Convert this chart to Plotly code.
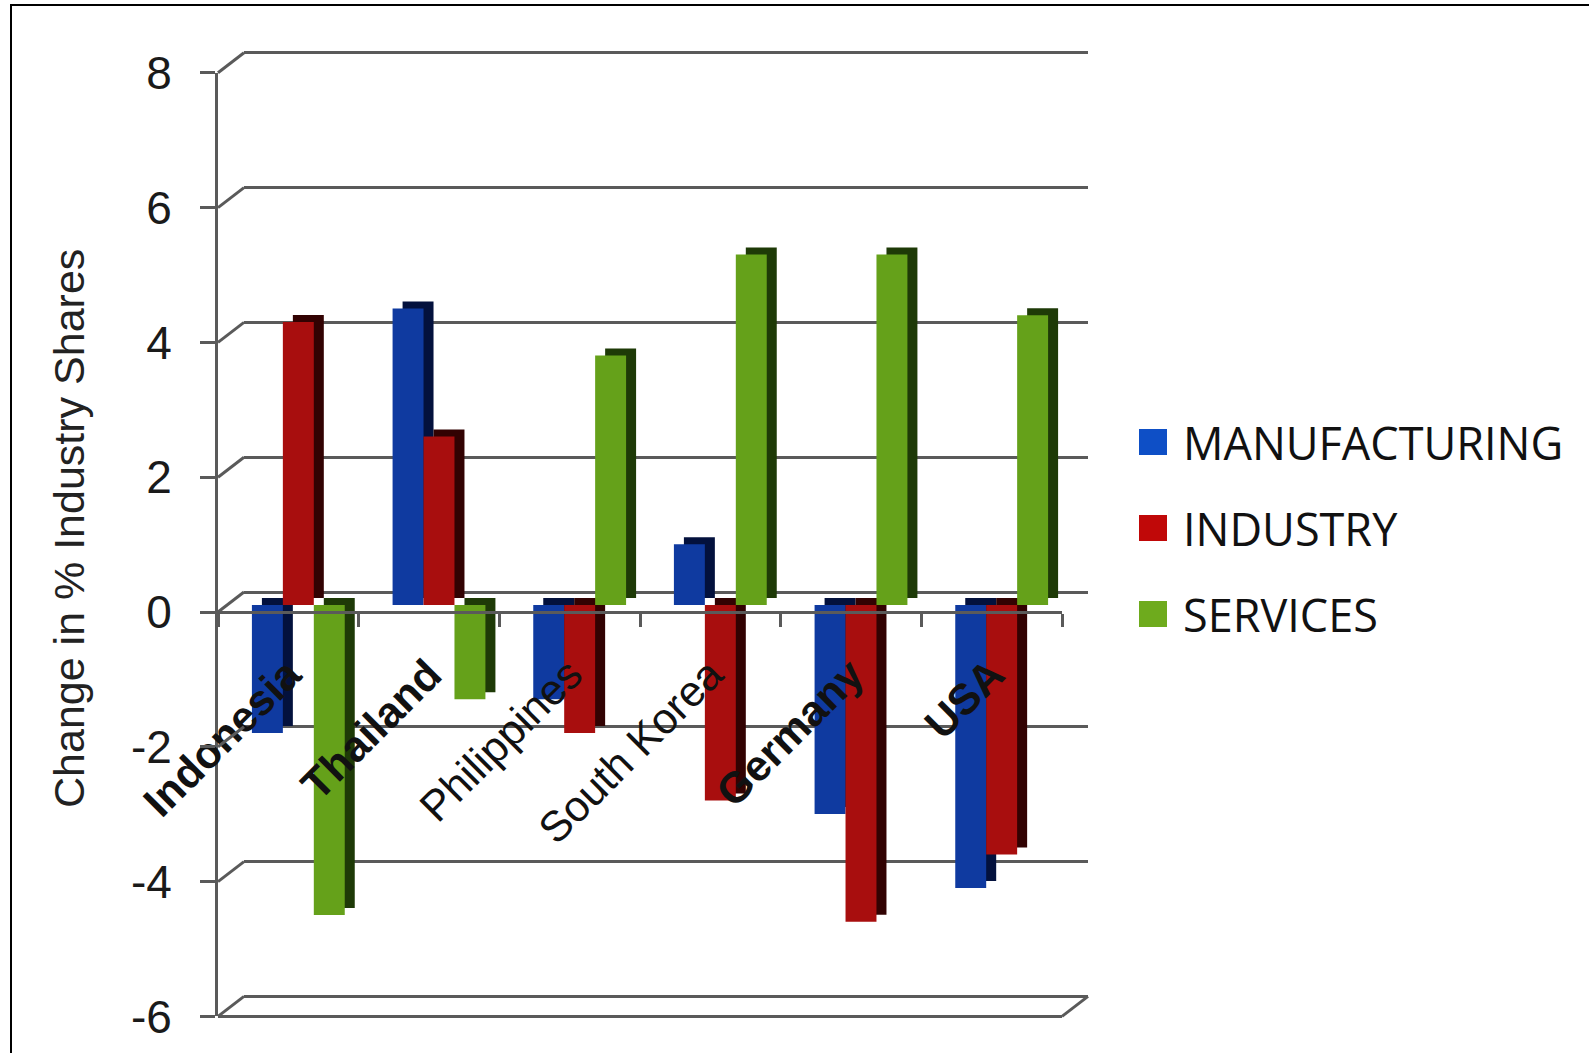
import plotly.graph_objects as go

# ---------------- data ----------------
categories = ["Indonesia", "Thailand", "Philippines", "South Korea", "Germany", "USA"]
tick_labels = ["<b>Indonesia</b>", "<b>Thailand</b>", "Philippines", "South Korea",
               "<b>Germany</b>", "<b>USA</b>"]
series_names = ["MANUFACTURING", "INDUSTRY", "SERVICES"]
manufacturing = [-1.9, 4.4, -1.4, 0.9, -3.1, -4.2]
industry = [4.2, 2.5, -1.9, -2.9, -4.7, -3.7]
services = [-4.6, -1.4, 3.7, 5.2, 5.2, 4.3]
y_ticks = [-6, -4, -2, 0, 2, 4, 6, 8]
y_tick_text = ["-6", "-4", "-2", "0", "2", "4", "6", "8"]
y_title = "Change in % Industry Shares"

# ---------------- styles ----------------
front_colors = ["#0F3AA0", "#A80E0E", "#65A11A"]
side_colors = ["#03113D", "#320202", "#1E3A07"]
legend_colors = ["#0E4FC6", "#C00808", "#6EAB1D"]
grid_color = "#5a5a5a"

W, H = 1589, 1053
Y_RANGE = [-6, 8]
PAD = 0.05  # tiny range padding on back wall so edge gridlines are drawn
PX_PER_UNIT = 67.4


def fx(p):
    return p / W


def fy(p):
    return 1 - p / H


# pixel boxes: (left, right, zero_y_px)
FRONT = (218, 1062, 612)
BACK = (244, 1088, 592)
BARS = (228, 1072, 605)
SHADOW = (238, 1082, 598)


def ydom(box, lo, hi):
    z = box[2]
    return [fy(z - lo * PX_PER_UNIT), fy(z - hi * PX_PER_UNIT)]


def xdom(box):
    return [fx(box[0]), fx(box[1])]


def val_to_paper(box, v):
    return fy(box[2] - v * PX_PER_UNIT)


series = [manufacturing, industry, services]

fig = go.Figure()

# shadow (depth) bars on x2/y2
for name, vals, col in zip(series_names, series, side_colors):
    fig.add_trace(go.Bar(x=categories, y=vals, name=name, marker_color=col,
                         marker_line_width=0, xaxis="x2", yaxis="y2",
                         showlegend=False, hoverinfo="skip"))
# front bars on x3/y3
for name, vals, col in zip(series_names, series, front_colors):
    fig.add_trace(go.Bar(x=categories, y=vals, name=name, marker_color=col,
                         marker_line_width=0, xaxis="x3", yaxis="y3",
                         showlegend=False))
# invisible traces on back wall subplot and front axis subplot
fig.add_trace(go.Scatter(x=categories, y=[None] * len(categories), xaxis="x", yaxis="y",
                         showlegend=False, hoverinfo="skip"))
fig.add_trace(go.Scatter(x=categories, y=[None] * len(categories), xaxis="x4", yaxis="y4",
                         showlegend=False, hoverinfo="skip"))

ncat = len(categories)
hidden_x = dict(type="category", range=[-0.5, ncat - 0.5], visible=False, automargin=False)
hidden_y = dict(range=Y_RANGE, visible=False, automargin=False)

fig.update_layout(
    width=W, height=H,
    margin=dict(l=0, r=0, t=0, b=0, pad=0, autoexpand=False),
    paper_bgcolor="white",
    plot_bgcolor="rgba(0,0,0,0)",
    barmode="group",
    bargap=0.34,
    bargroupgap=0,
    showlegend=False,
    xaxis=dict(hidden_x, domain=xdom(BACK), anchor="y"),
    yaxis=dict(range=[Y_RANGE[0] - PAD, Y_RANGE[1] + PAD],
               domain=ydom(BACK, Y_RANGE[0] - PAD, Y_RANGE[1] + PAD),
               anchor="x", tickvals=y_ticks, showgrid=True, automargin=False,
               gridcolor=grid_color, gridwidth=3, showticklabels=False, ticks="",
               showline=False, zeroline=False),
    xaxis2=dict(hidden_x, domain=xdom(SHADOW), anchor="y2"),
    yaxis2=dict(hidden_y, domain=ydom(SHADOW, *Y_RANGE), anchor="x2"),
    xaxis3=dict(hidden_x, domain=xdom(BARS), anchor="y3"),
    yaxis3=dict(hidden_y, domain=ydom(BARS, *Y_RANGE), anchor="x3"),
    xaxis4=dict(type="category", range=[-0.5, ncat - 0.5], domain=xdom(FRONT),
                anchor="free", position=val_to_paper(FRONT, 0), automargin=False,
                showgrid=False, zeroline=False,
                showline=True, linecolor=grid_color, linewidth=3,
                ticks="outside", tickson="boundaries", ticklen=13, tickwidth=3,
                tickcolor=grid_color, tickangle=-45,
                tickvals=categories, ticktext=tick_labels,
                ticklabelstandoff=18,
                tickfont=dict(family="Liberation Sans, Arial", size=43, color="#111111")),
    yaxis4=dict(range=Y_RANGE, domain=ydom(FRONT, *Y_RANGE), anchor="x4", automargin=False,
                tickvals=y_ticks, ticktext=y_tick_text,
                showgrid=False, zeroline=False, showline=True, linecolor=grid_color,
                linewidth=3, ticks="outside", ticklen=15, tickwidth=3,
                tickcolor=grid_color, ticklabelstandoff=19,
                tickfont=dict(family="Liberation Sans, Arial", size=46, color="#1a1a1a")),
)

shapes = []
# connectors from front axis to back wall gridlines
for v in y_ticks:
    shapes.append(dict(type="line", xref="paper", yref="paper",
                       x0=fx(FRONT[0]), y0=val_to_paper(FRONT, v),
                       x1=fx(BACK[0]), y1=val_to_paper(BACK, v),
                       line=dict(color=grid_color, width=3)))
# front floor edge at bottom and right diagonal
vmin = Y_RANGE[0]
shapes.append(dict(type="line", xref="paper", yref="paper",
                   x0=fx(FRONT[0]), y0=val_to_paper(FRONT, vmin),
                   x1=fx(FRONT[1]), y1=val_to_paper(FRONT, vmin),
                   line=dict(color=grid_color, width=3)))
shapes.append(dict(type="line", xref="paper", yref="paper",
                   x0=fx(FRONT[1]), y0=val_to_paper(FRONT, vmin),
                   x1=fx(BACK[1]), y1=val_to_paper(BACK, vmin),
                   line=dict(color=grid_color, width=3)))
# outer frame
shapes.append(dict(type="rect", xref="paper", yref="paper",
                   x0=fx(11), y0=fy(1080), x1=fx(1620), y1=fy(5),
                   line=dict(color="#000000", width=2), fillcolor="rgba(0,0,0,0)"))

# custom legend
annotations = []
LEG_X, LEG_TOP, LEG_STEP, SQ_W, SQ_H = 1139, 442, 86, 28, 26
for i, (name, col) in enumerate(zip(series_names, legend_colors)):
    cy = LEG_TOP + i * LEG_STEP
    shapes.append(dict(type="rect", xref="paper", yref="paper",
                       x0=fx(LEG_X), x1=fx(LEG_X + SQ_W),
                       y0=fy(cy + SQ_H / 2), y1=fy(cy - SQ_H / 2),
                       line=dict(width=0), fillcolor=col))
    annotations.append(dict(xref="paper", yref="paper", x=fx(LEG_X + 42), y=fy(cy),
                            xanchor="left", yanchor="middle", showarrow=False,
                            text=name,
                            font=dict(family="Open Sans", size=45, color="#111111")))

# y axis title
annotations.append(dict(xref="paper", yref="paper", x=fx(69), y=fy(529),
                        xanchor="center", yanchor="middle", showarrow=False,
                        text=y_title, textangle=-90,
                        font=dict(family="Liberation Sans, Arial", size=43, color="#222222")))

fig.update_layout(shapes=shapes, annotations=annotations)

fig.write_html("out.html")
